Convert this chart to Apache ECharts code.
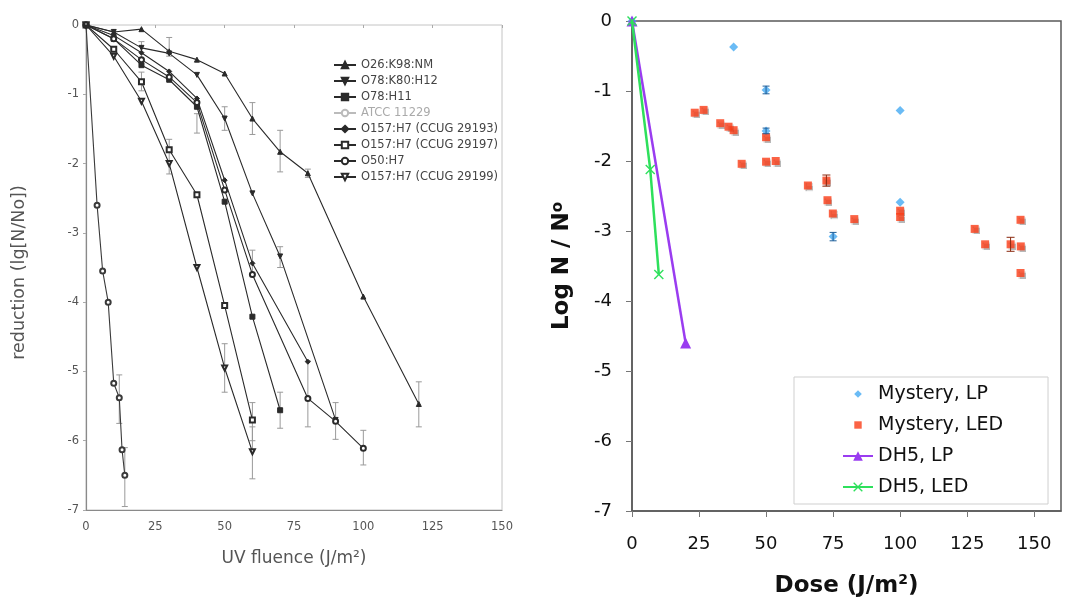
<!DOCTYPE html>
<html><head><meta charset="utf-8">
<script src="https://cdn.jsdelivr.net/npm/echarts@6/dist/echarts.min.js"></script>
<style>html,body{margin:0;padding:0;background:#fff}#c{width:1069px;height:604px}</style>
</head><body><div id="c"></div>
<script>
// ---------- Left panel: log reduction vs UV fluence (J/m2) ----------
const leftNames = ['O26:K98:NM','O78:K80:H12','O78:H11','ATCC 11229','O157:H7 (CCUG 29193)','O157:H7 (CCUG 29197)','O50:H7','O157:H7 (CCUG 29199)'];
const o26X = [0,10,20,30,40,50,60,70,80,100,120];
const o26Y = [0,-0.1,-0.06,-0.38,-0.5,-0.7,-1.35,-1.83,-2.14,-3.92,-5.47];
const o78k80X = [0,10,20,30,40,50,60,70,90];
const o78k80Y = [0,-0.1,-0.33,-0.41,-0.72,-1.35,-2.43,-3.34,-5.7];
const o78h11X = [0,10,20,30,40,50,60,70];
const o78h11Y = [0,-0.2,-0.58,-0.79,-1.18,-2.55,-4.21,-5.56];
const atccX = [0,4,6,8,10,12,13,14];
const atccY = [0,-2.6,-3.55,-4.0,-5.17,-5.38,-6.13,-6.5];
const c29193X = [0,10,20,30,40,50,60,80];
const c29193Y = [0,-0.15,-0.4,-0.67,-1.06,-2.24,-3.44,-4.86];
const c29197X = [0,10,20,30,40,50,60];
const c29197Y = [0,-0.35,-0.82,-1.8,-2.45,-4.05,-5.7];
const o50X = [0,10,20,30,40,50,60,80,90,100];
const o50Y = [0,-0.2,-0.5,-0.75,-1.12,-2.38,-3.6,-5.39,-5.72,-6.11];
const c29199X = [0,10,20,30,40,50,60];
const c29199Y = [0,-0.45,-1.1,-2.0,-3.5,-4.95,-6.16];
// error bars (x, low, high)
const leftErrX  = [30,20,20,30,50,50,60,70,80,60,60,70,80,90,100,120,14,12,40,60,70];
const leftErrLo = [-0.45,-0.95,-0.48,-2.15,-5.3,-1.52,-1.58,-2.12,-2.2,-6.0,-6.55,-5.82,-5.8,-5.98,-6.35,-5.8,-6.95,-5.75,-1.56,-3.62,-3.5];
const leftErrHi = [-0.18,-0.68,-0.24,-1.65,-4.6,-1.18,-1.12,-1.52,-2.08,-5.45,-5.8,-5.3,-4.85,-5.45,-5.85,-5.15,-6.1,-5.05,-1.28,-3.25,-3.2];
const leftXTicks = [0,25,50,75,100,125,150];

// ---------- Right panel: Log N/No vs Dose (J/m2) ----------
const lpX = [0,37.9,50,50,75,100,100];
const lpY = [0,-0.37,-0.985,-1.57,-3.08,-1.28,-2.59];
const ledX = [23.4,26.7,32.9,36,37.9,40.9,50,50,53.6,65.6,72.5,72.9,74.9,82.9,100,100,127.8,131.7,141.2,144.9,145,144.9];
const ledY = [-1.31,-1.27,-1.46,-1.51,-1.56,-2.04,-1.66,-2.01,-2.0,-2.35,-2.28,-2.56,-2.75,-2.83,-2.71,-2.8,-2.97,-3.19,-3.19,-2.84,-3.22,-3.6];
const dh5LpX = [0,20];
const dh5LpY = [0,-4.6];
const dh5LedX = [0,6.8,10];
const dh5LedY = [0,-2.12,-3.62];
const lpErrX = [50,50,75];
const lpErrLo = [-1.04,-1.61,-3.14];
const lpErrHi = [-0.93,-1.53,-3.02];
const ledErrX = [72.5,141.2];
const ledErrLo = [-2.36,-3.29];
const ledErrHi = [-2.2,-3.09];
const rightXTicks = [0,25,50,75,100,125,150];

const zip = (xs, ys) => xs.map((x, i) => [x, ys[i]]);
const zip3 = (xs, a, b) => xs.map((x, i) => [x, a[i], b[i]]);

function errRender(color, cap) {
  return function (params, api) {
    const x = api.value(0);
    const p1 = api.coord([x, api.value(1)]);
    const p2 = api.coord([x, api.value(2)]);
    const st = { stroke: color, lineWidth: 1 };
    return { type: 'group', children: [
      { type: 'line', shape: { x1: p1[0], y1: p1[1], x2: p2[0], y2: p2[1] }, style: st },
      { type: 'line', shape: { x1: p1[0] - cap, y1: p1[1], x2: p1[0] + cap, y2: p1[1] }, style: st },
      { type: 'line', shape: { x1: p2[0] - cap, y1: p2[1], x2: p2[0] + cap, y2: p2[1] }, style: st }
    ]};
  };
}

const LF = 'DejaVu Sans, Verdana, sans-serif';
const RF = 'DejaVu Sans, Verdana, sans-serif';
const lineCol = '#2a2a2a';

function leftLine(name, xs, ys, symbol, rot, color) {
  return {
    name, type: 'line', xAxisIndex: 0, yAxisIndex: 0, data: zip(xs, ys),
    symbol, symbolSize: 5, symbolRotate: rot || 0,
    lineStyle: { color: color || lineCol, width: 1.1 },
    itemStyle: { color: color || lineCol, borderColor: color || lineCol, borderWidth: 1 },
    z: 3
  };
}

const chart = echarts.init(document.getElementById('c'), null, { renderer: 'canvas' });
chart.setOption({
  animation: false,
  backgroundColor: '#fff',
  grid: [
    { left: 86, top: 25, width: 416, height: 485, show: true, borderColor: '#c4c4c4', borderWidth: 1 },
    { left: 632, top: 21, width: 429, height: 490, show: true, borderColor: '#5a5a5a', borderWidth: 1.5 }
  ],
  xAxis: [
    { gridIndex: 0, type: 'value', min: 0, max: 150, interval: 25,
      axisLine: { show: true, onZero: false, lineStyle: { color: '#8a8a8a', width: 1.2 } },
      axisTick: { show: false },
      splitLine: { show: false },
      axisLabel: { color: '#555', fontSize: 11.5, margin: 11, fontFamily: LF },
      name: 'UV fluence (J/m²)', nameLocation: 'middle', nameGap: 40,
      nameTextStyle: { color: '#555', fontSize: 17, fontFamily: LF } },
    { gridIndex: 0, type: 'value', position: 'top', min: 0, max: 150, interval: 25,
      axisLine: { show: false }, axisTick: { show: true, inside: true, length: 3, lineStyle: { color: '#aaa' } },
      axisLabel: { show: false }, splitLine: { show: false } },
    { gridIndex: 1, type: 'value', min: 0, max: 160, interval: 25,
      axisLine: { show: true, onZero: false, lineStyle: { color: '#5a5a5a', width: 1.5 } },
      axisTick: { show: true, length: 6, customValues: rightXTicks, lineStyle: { color: '#777' } },
      splitLine: { show: false },
      axisLabel: { color: '#111', fontSize: 18, margin: 24, fontFamily: RF, customValues: rightXTicks },
      name: '{b|Dose (J/m}{s|2}{b|)}', nameLocation: 'middle', nameGap: 62,
      nameTextStyle: { rich: {
        b: { fontSize: 23, fontWeight: 'bold', color: '#111', fontFamily: RF },
        s: { fontSize: 14, fontWeight: 'bold', color: '#111', fontFamily: RF, padding: [0, 0, 12, 0] } } } }
  ],
  yAxis: [
    { gridIndex: 0, type: 'value', min: -7, max: 0, interval: 1,
      axisLine: { show: true, onZero: false, lineStyle: { color: '#8a8a8a', width: 1.2 } },
      axisTick: { show: true, length: 3, lineStyle: { color: '#999' } },
      splitLine: { show: false },
      axisLabel: { color: '#555', fontSize: 11.5, margin: 7, fontFamily: LF },
      name: 'reduction (lg[N/No])', nameLocation: 'middle', nameGap: 58,
      nameTextStyle: { color: '#555', fontSize: 17.5, fontFamily: LF, padding: [0, 10, 0, 0] } },
    { gridIndex: 0, type: 'value', position: 'right', min: -7, max: 0, interval: 1,
      axisLine: { show: false }, axisTick: { show: true, inside: true, length: 3, lineStyle: { color: '#aaa' } },
      axisLabel: { show: false }, splitLine: { show: false } },
    { gridIndex: 1, type: 'value', min: -7, max: 0, interval: 1,
      axisLine: { show: true, onZero: false, lineStyle: { color: '#5a5a5a', width: 1.5 } },
      axisTick: { show: true, length: 6, lineStyle: { color: '#777' } },
      splitLine: { show: false },
      axisLabel: { color: '#111', fontSize: 18, margin: 20, fontFamily: RF },
      name: '{b|Log N / N}{s|o}', nameLocation: 'middle', nameGap: 58,
      nameTextStyle: { rich: {
        b: { fontSize: 23, fontWeight: 'bold', color: '#111', fontFamily: RF },
        s: { fontSize: 15, fontWeight: 'bold', color: '#111', fontFamily: RF, padding: [0, 0, 8, 0] } } } }
  ],
  legend: [
    { left: 328, top: 54, orient: 'vertical', itemWidth: 22, itemHeight: 8, itemGap: 4,
      textStyle: { color: '#444', fontSize: 11.5, fontFamily: LF },
      data: leftNames.map(n => n === 'ATCC 11229'
        ? { name: n, textStyle: { color: '#aaa' }, itemStyle: { color: '#bbb', borderColor: '#bbb' }, lineStyle: { color: '#bbb' } }
        : { name: n }) },
    { left: 794, top: 377, orient: 'vertical', itemWidth: 30, itemHeight: 12, itemGap: 9,
      padding: [6, 45, 6, 48], borderColor: '#cfcfcf', borderWidth: 1, backgroundColor: '#fff',
      textStyle: { color: '#111', fontSize: 19, lineHeight: 22, fontFamily: RF },
      data: [
        { name: 'Mystery, LP', icon: 'path://M0,0M12,12M6,2.2L9.8,6L6,9.8L2.2,6Z' },
        { name: 'Mystery, LED', icon: 'path://M0,0M12,12M2.3,2.3L9.7,2.3L9.7,9.7L2.3,9.7Z' },
        { name: 'DH5, LP' },
        { name: 'DH5, LED' }
      ] }
  ],
  series: [
    { type: 'custom', name: 'errL', xAxisIndex: 0, yAxisIndex: 0, renderItem: errRender('#9a9a9a', 3),
      data: zip3(leftErrX, leftErrLo, leftErrHi), encode: { x: 0, y: [1, 2] }, z: 2, silent: true },
    leftLine('O26:K98:NM', o26X, o26Y, 'triangle', 0),
    leftLine('O78:K80:H12', o78k80X, o78k80Y, 'triangle', 180),
    leftLine('O78:H11', o78h11X, o78h11Y, 'rect', 0),
    leftLine('ATCC 11229', atccX, atccY, 'emptyCircle', 0, '#3a3a3a'),
    leftLine('O157:H7 (CCUG 29193)', c29193X, c29193Y, 'diamond', 0),
    leftLine('O157:H7 (CCUG 29197)', c29197X, c29197Y, 'emptyRect', 0),
    leftLine('O50:H7', o50X, o50Y, 'emptyCircle', 0),
    leftLine('O157:H7 (CCUG 29199)', c29199X, c29199Y, 'emptyTriangle', 180),

    { type: 'custom', name: 'errLP', xAxisIndex: 2, yAxisIndex: 2, renderItem: errRender('#1f5f99', 3.5),
      data: zip3(lpErrX, lpErrLo, lpErrHi), encode: { x: 0, y: [1, 2] }, z: 4, silent: true },
    { type: 'custom', name: 'errLED', xAxisIndex: 2, yAxisIndex: 2, renderItem: errRender('#8a2a10', 4),
      data: zip3(ledErrX, ledErrLo, ledErrHi), encode: { x: 0, y: [1, 2] }, z: 4, silent: true },
    { name: 'Mystery, LP', type: 'scatter', xAxisIndex: 2, yAxisIndex: 2, data: zip(lpX, lpY),
      symbol: 'diamond', symbolSize: 9, itemStyle: { color: '#45aaf2' }, z: 3 },
    { name: 'Mystery, LED', type: 'scatter', xAxisIndex: 2, yAxisIndex: 2, data: zip(ledX, ledY),
      symbol: 'rect', symbolSize: 8, itemStyle: { color: '#fa3c16', shadowColor: 'rgba(0,0,0,0.35)', shadowOffsetX: 1, shadowOffsetY: 1.5, shadowBlur: 1 }, z: 3 },
    { name: 'DH5, LP', type: 'line', xAxisIndex: 2, yAxisIndex: 2, data: zip(dh5LpX, dh5LpY),
      symbol: 'triangle', symbolSize: 11, lineStyle: { color: '#9a3cf0', width: 2.5 },
      itemStyle: { color: '#9a3cf0' }, z: 5 },
    { name: 'DH5, LED', type: 'line', xAxisIndex: 2, yAxisIndex: 2, data: zip(dh5LedX, dh5LedY),
      symbol: 'path://M1,0L5,4L9,0L10,1L6,5L10,9L9,10L5,6L1,10L0,9L4,5L0,1Z', symbolSize: 10,
      lineStyle: { color: '#2ee05c', width: 2.5 }, itemStyle: { color: '#2ee05c' }, z: 6 }
  ]
});
</script></body></html>
